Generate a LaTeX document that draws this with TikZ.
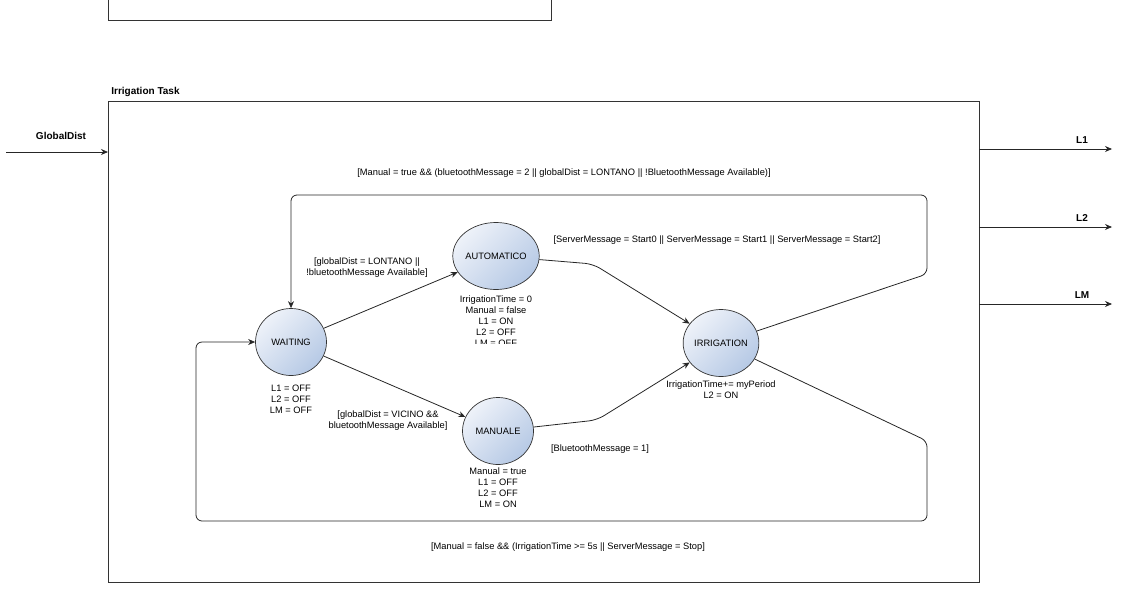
\documentclass[tikz,border=0pt]{standalone}
\usepackage{fontspec}
\setmainfont{Liberation Sans}
\usepackage{tikz}
\usetikzlibrary{positioning,calc,arrows.meta,shapes.geometric}

\begin{document}
\begin{tikzpicture}[->,>={Stealth[length=7pt,width=6pt]},x=1pt,y=-1pt,draw=black!85,line width=0.8pt]
	\definecolor{stlight}{RGB}{238,242,249}
	\definecolor{stdark}{RGB}{182,201,229}
	\definecolor{boxcolor}{RGB}{51,51,51}
	\tikzstyle{state}=[ellipse, minimum width=71pt, minimum height=67pt, inner sep=0pt, draw=boxcolor, line width=0.7pt, top color=stlight, bottom color=stdark, shading angle=45, font=\fontsize{9.3}{11}\selectfont]
	\tikzstyle{txt}=[align=center, inner sep=0pt, yshift=-1pt, font=\fontsize{9.3}{11}\selectfont]
	\tikzstyle{port}=[inner sep=0pt, yshift=-1pt, font=\fontsize{10}{12}\selectfont\bfseries]
	\tikzstyle{task}=[-, draw=boxcolor, line width=0.8pt]
	\useasboundingbox (0,0) rectangle (1129,600);

	% Draw the task boxes
	\draw[task] (108,0) -- (108,20) -- (551,20) -- (551,0);
	\draw[task] (108,101) rectangle (979,582);
	\node[port, anchor=west] (T) at (111,91) {Irrigation Task};

	% Draw the input and the outputs
	\node[port] (G) at (61,135) {GlobalDist};
	\coordinate (G-in) at (6,152);
	\draw (G-in) -- (108,152);
	\foreach \name/\y in {L1/149,L2/227,LM/304}
	{
	 \coordinate (\name-out) at (979,\y);
	 \node[port] (\name) at (1082,\y-10) {\name};
	 \draw (\name-out) -- (1112,\y);
	}

	% Draw the states
	\node[state] (Waiting) at (291,342) {WAITING};
	\node[state] (Auto) at (496,256) {AUTOMATICO};
	\node[state] (Manual) at (498,431) {MANUALE};
	\node[state] (Irr) at (721,343) {IRRIGATION};

	% Draw the state actions
	\node[txt] (Waiting-do) at (291,398.5) {L1 = OFF\\L2 = OFF\\LM = OFF};
	\begin{scope}
	 \clip (420,288) rectangle (580,343.5);
	 \node[txt] (Auto-do) at (496,320) {IrrigationTime = 0\\Manual = false\\L1 = ON\\L2 = OFF\\LM = OFF};
	\end{scope}
	\node[txt] (Manual-do) at (498,487) {Manual = true\\L1 = OFF\\L2 = OFF\\LM = ON};
	\node[txt] (Irr-do) at (721,389) {IrrigationTime+= myPeriod\\L2 = ON};

	% Connect the states
	\draw (Waiting) -- (Auto);
	\draw (Waiting) -- (Manual);
	\draw[rounded corners=8pt] (Auto) -- (593,264) -- (Irr);
	\draw[rounded corners=8pt] (Manual) -- (597,420) -- (Irr);
	\draw[rounded corners=6pt] (Irr) -- (927,274) -- (927,195) -- (291,195) -- (Waiting);
	\draw[rounded corners=6pt] (Irr) -- (927,441) -- (927,521) -- (196,521) -- (196,342) -- (Waiting);

	% Draw the guards
	\node[txt] (g-auto) at (367,267) {[globalDist = LONTANO ||\\!bluetoothMessage Available]};
	\node[txt] (g-manual) at (388,420) {[globalDist = VICINO \&\&\\bluetoothMessage Available]};
	\node[txt] (g-start) at (717,239) {[ServerMessage = Start0 || ServerMessage = Start1 || ServerMessage = Start2]};
	\node[txt] (g-bt) at (600,448) {[BluetoothMessage = 1]};
	\node[txt] (g-back) at (564,172) {[Manual = true \&\& (bluetoothMessage = 2 || globalDist = LONTANO || !BluetoothMessage Available)]};
	\node[txt] (g-stop) at (568,546) {[Manual = false \&\& (IrrigationTime >= 5s || ServerMessage = Stop]};
\end{tikzpicture}
\end{document}
